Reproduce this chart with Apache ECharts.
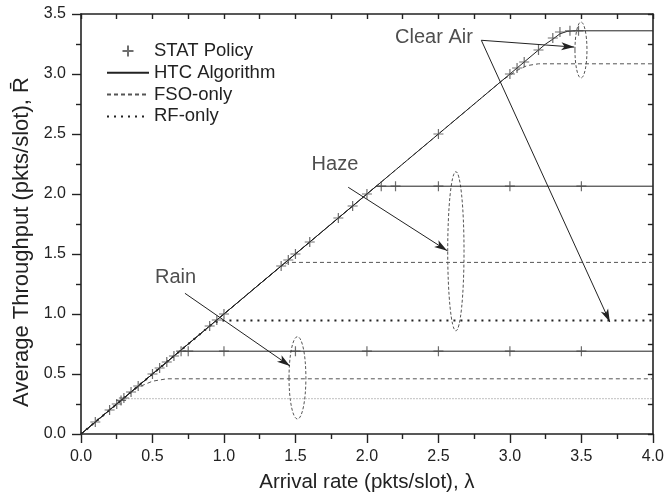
<!DOCTYPE html>
<html><head><meta charset="utf-8">
<script src="https://cdn.jsdelivr.net/npm/echarts@6/dist/echarts.min.js"></script>
<style>html,body{margin:0;padding:0;background:#fff}#c{width:667px;height:503px}</style>
</head><body><div id="c"></div>
<script>
// ---- data ----
const legendNames = ['STAT Policy', 'HTC Algorithm', 'FSO-only', 'RF-only'];
const xTitle = 'Arrival rate (pkts/slot), \u03bb';
const yTitle = 'Average Throughput (pkts/slot), R\u0304';

// STAT policy (simulation points)
const statRain = [[0.1,0.1],[0.2,0.2],[0.25,0.25],[0.28,0.28],[0.3,0.3],[0.35,0.35],[0.4,0.4],[0.5,0.5],[0.55,0.55],[0.6,0.6],[0.65,0.65],[0.7,0.69],[0.75,0.69],[1.0,0.69],[1.5,0.69],[2.0,0.69],[2.5,0.69],[3.0,0.69],[3.5,0.69]];
const statHaze = [[0.9,0.9],[0.95,0.95],[1.0,1.0],[1.4,1.4],[1.45,1.45],[1.5,1.5],[1.6,1.6],[1.8,1.8],[1.9,1.9],[2.0,2.0],[2.1,2.065],[2.2,2.065],[2.5,2.065],[3.0,2.065],[3.5,2.065]];
const statClear = [[2.5,2.5],[3.0,3.0],[3.05,3.05],[3.1,3.1],[3.2,3.2],[3.3,3.3],[3.35,3.35],[3.42,3.36],[3.48,3.36]];

// HTC algorithm
const htcRain = [[0,0],[0.69,0.69],[4,0.69]];
const htcHaze = [[0,0],[2.065,2.065],[4,2.065]];
const htcClear = [[0,0],[3.25,3.25],[3.3,3.29],[3.35,3.335],[3.4,3.355],[3.45,3.36],[4,3.36]];

// FSO-only
const fsoRain = [[0,0],[0.35,0.35],[0.4,0.39],[0.5,0.44],[0.6,0.46],[4,0.46]];
const fsoHaze = [[0,0],[1.4,1.4],[1.45,1.43],[4,1.43]];
const fsoClear = [[0,0],[2.95,2.95],[3.05,3.03],[3.12,3.07],[3.2,3.085],[4,3.085]];

// RF-only
const rfClearHaze = [[0,0],[0.9,0.9],[0.95,0.935],[1.0,0.945],[4,0.945]];
const rfRain = [[0,0],[0.28,0.28],[0.32,0.295],[4,0.295]];

// annotations (data coordinates)
const annoTexts = [{name:'Clear Air', value:[2.469,3.308]},{name:'Haze', value:[1.776,2.246]},{name:'Rain', value:[0.661,1.308]}];
const annoEllipses = [[3.497,3.2,0.042,0.233],[2.622,1.523,0.057,0.663],[1.514,0.468,0.059,0.343]];
const annoArrows = [
  [[2.80,3.281],[3.45,3.224]],
  [[2.80,3.281],[3.699,0.933]],
  [[1.869,2.056],[2.5615,1.5275]],
  [[0.727,1.1725],[1.4615,0.567]]
];

// ---- chart ----
const FONT = "'Liberation Sans', Arial, sans-serif";
const INK = '#222';
const plus = 'path://M0,5L10,5M5,0L5,10';

function lineS(name, data, ls){
  return {name, type:'line', data, symbol:'none', showSymbol:false, silent:true,
    lineStyle:Object.assign({color:INK, width:1, type:'solid'}, ls), itemStyle:{color:ls.color||INK}};
}
function statS(data){
  return {name:'STAT Policy', type:'scatter', data, symbol:plus, symbolSize:10, silent:true,
    itemStyle:{color:'rgba(0,0,0,0)', borderColor:'#4a4a4a', borderWidth:1.2}, z:5};
}
const fsoStyle = {color:'#555', width:1, type:[4,3]};

const chart = echarts.init(document.getElementById('c'), null, {renderer:'canvas'});
const axBase = {type:'value', splitLine:{show:false},
  axisLine:{show:true, onZero:false, lineStyle:{color:INK, width:1.6}}};
chart.setOption({
  animation:false,
  backgroundColor:'#fff',
  textStyle:{fontFamily:FONT},
  grid:{left:81, right:14, top:14, bottom:69, containLabel:false},
  legend:{data:legendNames.map((n,i)=> i===0 ? {name:n} : {name:n, itemStyle:{opacity:0}}),
    orient:'vertical', left:106, top:41.5, padding:0, itemWidth:42, itemHeight:11, itemGap:2.8,
    textStyle:{fontFamily:FONT, fontSize:18.5, color:INK}, selectedMode:false},
  xAxis:[
    Object.assign({}, axBase, {min:0, max:4, interval:0.5, position:'bottom',
      axisTick:{show:true, inside:false, length:9, lineStyle:{color:INK, width:1.4}},
      minorTick:{show:true, splitNumber:2, length:5, lineStyle:{color:INK, width:1.4}},
      axisLabel:{fontFamily:FONT, fontSize:16, color:INK, margin:15, formatter:v=>v.toFixed(1)},
      name:xTitle, nameLocation:'middle', nameGap:38, nameTextStyle:{fontFamily:FONT, fontSize:20.5, color:INK}}),
    Object.assign({}, axBase, {min:0, max:4, interval:0.25, position:'top',
      axisTick:{show:true, inside:true, length:5, lineStyle:{color:INK, width:1.4}},
      axisLabel:{show:false}})
  ],
  yAxis:[
    Object.assign({}, axBase, {min:0, max:3.5, interval:0.5, position:'left',
      axisTick:{show:true, inside:false, length:9, lineStyle:{color:INK, width:1.4}},
      minorTick:{show:true, splitNumber:2, length:5, lineStyle:{color:INK, width:1.4}},
      axisLabel:{fontFamily:FONT, fontSize:16, color:INK, margin:15, formatter:v=>v.toFixed(1)},
      name:yTitle, nameLocation:'middle', nameGap:42, nameRotate:90,
      nameTextStyle:{fontFamily:FONT, fontSize:22, color:INK, padding:[0,36,0,0]}}),
    Object.assign({}, axBase, {min:0, max:3.5, interval:0.25, position:'right',
      axisTick:{show:true, inside:true, length:5, lineStyle:{color:INK, width:1.4}},
      axisLabel:{show:false}})
  ],
  series:[
    lineS('RF-only', rfClearHaze, {color:INK, width:2, type:[2,5]}),
    lineS('RF-only', rfRain, {color:'#999', width:1.2, type:[1,2]}),
    lineS('FSO-only', fsoRain, fsoStyle),
    lineS('FSO-only', fsoHaze, fsoStyle),
    lineS('FSO-only', fsoClear, fsoStyle),
    lineS('HTC Algorithm', htcRain, {}),
    lineS('HTC Algorithm', htcHaze, {}),
    lineS('HTC Algorithm', htcClear, {}),
    statS(statRain), statS(statHaze), statS(statClear),
    {type:'custom', name:'ellipses', data:annoEllipses, silent:true, encode:{x:0, y:1},
      renderItem:function(params, api){
        const c = api.coord([api.value(0), api.value(1)]);
        const s = api.size([api.value(2), api.value(3)]);
        return {type:'ellipse', shape:{cx:c[0], cy:c[1], rx:s[0], ry:s[1]},
          style:{fill:'none', stroke:'#555', lineWidth:1, lineDash:[3,2]}};
      }},
    {type:'scatter', name:'labels', data:annoTexts, symbolSize:0, silent:true,
      label:{show:true, position:'inside', formatter:'{b}', fontFamily:FONT, fontSize:20, color:INK},
      markLine:{silent:true, symbol:['none','arrow'], symbolSize:[6,13], animation:false,
        lineStyle:{color:INK, width:1, type:'solid'}, label:{show:false}, emphasis:{disabled:true},
        data:annoArrows.map(a=>[{coord:a[0]},{coord:a[1]}])}}
  ]
});
</script>
</body></html>
